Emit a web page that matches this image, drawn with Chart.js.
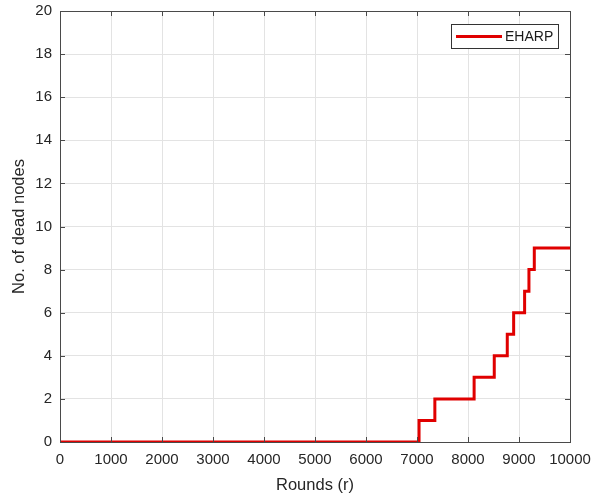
<!DOCTYPE html>
<html><head><meta charset="utf-8">
<script src="https://cdn.jsdelivr.net/npm/chart.js@4/dist/chart.umd.min.js"></script>
<style>html,body{margin:0;padding:0;background:#fff}#wrap{width:606px;height:495px}</style>
</head><body><div id="wrap"><canvas id="c" width="606" height="495"></canvas></div>
<script>
const seriesLabel = 'EHARP';
const roundsX = [0, 7040, 7350, 8120, 8515, 8770, 8895, 9110, 9195, 9300, 10000];
const deadNodes = [0, 1, 2, 3, 4, 5, 6, 7, 8, 9, 9];
const xTicks = [0,1000,2000,3000,4000,5000,6000,7000,8000,9000,10000];
const yTicks = [0,2,4,6,8,10,12,14,16,18,20];

const FONT = '"Liberation Sans", Arial, sans-serif';
const AX = '#4a4a4a';

const boxPlugin = {
  id: 'box',
  afterDatasetsDraw(chart) {
    const {ctx, chartArea: a, scales} = chart;
    ctx.save();
    ctx.strokeStyle = AX; ctx.lineWidth = 1;
    ctx.strokeRect(a.left + 0.5, a.top + 0.5, a.right - a.left, a.bottom - a.top);
    const L = 5;
    ctx.beginPath();
    xTicks.forEach(v => {
      const x = Math.round(scales.x.getPixelForValue(v)) + 0.5;
      ctx.moveTo(x, a.bottom); ctx.lineTo(x, a.bottom - L);
      ctx.moveTo(x, a.top); ctx.lineTo(x, a.top + L);
    });
    yTicks.forEach(v => {
      const y = Math.round(scales.y.getPixelForValue(v)) + 0.5;
      ctx.moveTo(a.left, y); ctx.lineTo(a.left + L, y);
      ctx.moveTo(a.right, y); ctx.lineTo(a.right - L, y);
    });
    ctx.stroke();
    // legend
    const ds = chart.data.datasets[0];
    const bx = 451, by = 24, bw = 107, bh = 24;
    ctx.fillStyle = '#fff';
    ctx.fillRect(bx, by, bw, bh);
    ctx.strokeStyle = '#333';
    ctx.strokeRect(bx + 0.5, by + 0.5, bw, bh);
    ctx.strokeStyle = ds.borderColor; ctx.lineWidth = 3;
    ctx.beginPath(); ctx.moveTo(bx + 5, by + 12.5); ctx.lineTo(bx + 51, by + 12.5); ctx.stroke();
    ctx.fillStyle = '#1a1a1a'; ctx.font = '14px ' + FONT;
    ctx.textBaseline = 'middle'; ctx.textAlign = 'left';
    ctx.fillText(ds.label, bx + 54, by + 13);
    ctx.restore();
  }
};

new Chart(document.getElementById('c'), {
  type: 'line',
  data: {
    datasets: [{
      label: seriesLabel,
      data: roundsX.map((x, i) => ({x, y: deadNodes[i]})),
      borderColor: '#e00000',
      borderWidth: 3,
      pointRadius: 0,
      stepped: 'before',
      fill: false
    }]
  },
  options: {
    responsive: false,
    animation: false,
    layout: {padding: {left: 0, right: 36, top: 11, bottom: 0}},
    plugins: {legend: {display: false}, tooltip: {enabled: false}},
    scales: {
      x: {
        type: 'linear', min: 0, max: 10000,
        afterBuildTicks: s => { s.ticks = xTicks.map(v => ({value: v})); },
        afterFit: s => { s.height = 53; s.paddingLeft = 0; s.paddingRight = 0; },
        grid: {color: '#e3e3e3', drawTicks: false},
        border: {color: AX},
        ticks: {color: '#262626', font: {family: FONT, size: 15}, padding: 9, maxRotation: 0,
                callback: v => String(v)},
        title: {display: true, text: 'Rounds (r)', color: '#262626', font: {family: FONT, size: 16.5}, padding: {top: 0, bottom: 0}}
      },
      y: {
        min: 0, max: 20,
        afterBuildTicks: s => { s.ticks = yTicks.map(v => ({value: v})); },
        afterFit: s => { s.width = 60; s.paddingTop = 0; s.paddingBottom = 0; },
        grid: {color: '#e3e3e3', drawTicks: false},
        border: {color: AX},
        ticks: {color: '#262626', font: {family: FONT, size: 15}, padding: 8, callback: v => String(v)},
        title: {display: true, text: 'No. of dead nodes', color: '#262626', font: {family: FONT, size: 16.5}, padding: {top: 10, bottom: 4}}
      }
    }
  },
  plugins: [boxPlugin]
});
</script>
</body></html>
